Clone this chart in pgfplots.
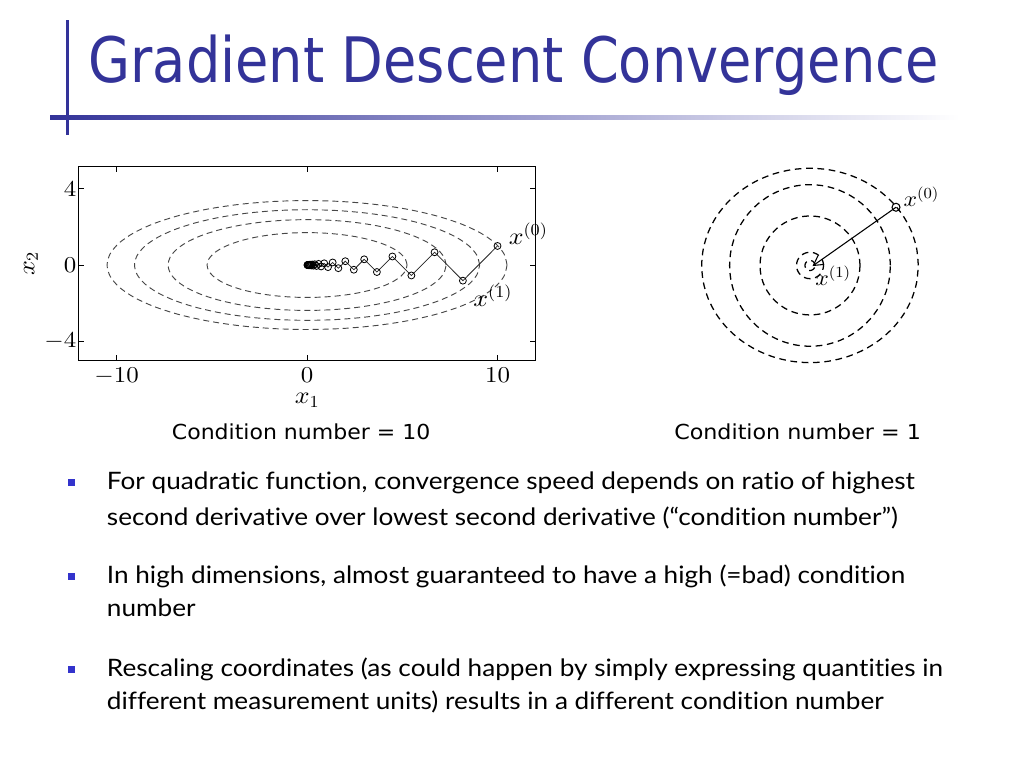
\documentclass[border=0pt]{standalone}
\DeclareFontShape{OML}{cmm}{m}{it}{<->cmmi10}{\skewchar\font127 }
\DeclareFontShape{OMS}{cmsy}{m}{n}{<->cmsy10}{\skewchar\font48 }
\DeclareFontShape{OT1}{cmr}{m}{n}{<->cmr10}{}
\usepackage{fontspec}
\usepackage{graphicx}
\usepackage{pgfplots}
\pgfplotsset{compat=1.18}
\usepackage{pgfplotstable}
\usetikzlibrary{arrows.meta}
\newfontfamily\titlefont{DejaVu Sans}
\newfontfamily\bodyfont[Ligatures=NoCommon]{Lato}
\definecolor{titleblue}{RGB}{51,51,153}
\definecolor{bulletblue}{RGB}{51,51,204}

% unit circle, every 10 degrees (contours are scaled copies)
\pgfplotstableread{
c s
1.0000 0.0000
0.9848 0.1736
0.9397 0.3420
0.8660 0.5000
0.7660 0.6428
0.6428 0.7660
0.5000 0.8660
0.3420 0.9397
0.1736 0.9848
0.0000 1.0000
-0.1736 0.9848
-0.3420 0.9397
-0.5000 0.8660
-0.6428 0.7660
-0.7660 0.6428
-0.8660 0.5000
-0.9397 0.3420
-0.9848 0.1736
-1.0000 0.0000
-0.9848 -0.1736
-0.9397 -0.3420
-0.8660 -0.5000
-0.7660 -0.6428
-0.6428 -0.7660
-0.5000 -0.8660
-0.3420 -0.9397
-0.1736 -0.9848
0.0000 -1.0000
0.1736 -0.9848
0.3420 -0.9397
0.5000 -0.8660
0.6428 -0.7660
0.7660 -0.6428
0.8660 -0.5000
0.9397 -0.3420
0.9848 -0.1736
1.0000 0.0000
}\unitcircle

% gradient descent iterates, condition number 10
\pgfplotstableread{
x y
10.0000 1.0000
8.1818 -0.8182
6.6942 0.6694
5.4771 -0.5477
4.4812 0.4481
3.6665 -0.3666
2.9998 0.3000
2.4544 -0.2454
2.0082 0.2008
1.6430 -0.1643
1.3443 0.1344
1.0999 -0.1100
0.8999 0.0900
0.7363 -0.0736
0.6024 0.0602
0.4929 -0.0493
0.4033 0.0403
0.3300 -0.0330
0.2700 0.0270
0.2209 -0.0221
0.1807 0.0181
0.1479 -0.0148
0.1210 0.0121
0.0990 -0.0099
0.0810 0.0081
0.0663 -0.0066
0.0542 0.0054
0.0444 -0.0044
0.0363 0.0036
0.0297 -0.0030
0.0243 0.0024
}\gdten

% condition number 1: one step
\pgfplotstableread{
x y
86.0 58.2
2.5 -0.6
}\gdone

\begin{document}
\begin{tikzpicture}
\path[use as bounding box, fill=white] (0,0) rectangle (768pt,576pt);

% ---------- left plot ----------
\begin{axis}[
  at={(58.9pt,305.7pt)}, anchor=south west,
  scale only axis, width=342.8pt, height=145.2pt,
  xmin=-12, xmax=12, ymin=-5, ymax=5.15,
  xtick={-10,0,10}, ytick={-4,0,4},
  tick align=inside, major tick length=4pt,
  tick style={black, line width=0.5pt},
  axis line style={black, line width=0.6pt},
  tick label style={font=\fontsize{17}{19}\selectfont},
  xticklabel={\scalebox{1.1}[1]{$\pgfmathprintnumber{\tick}$}},
  yticklabel={\scalebox{1.1}[1]{$\pgfmathprintnumber{\tick}$}},
  xticklabel style={yshift=-2pt},
  yticklabel style={xshift=1.8pt},
  label style={font=\fontsize{18}{20}\selectfont},
  xlabel={\scalebox{1.08}[1]{$x_1$}}, ylabel={\scalebox{1.08}[1]{$x_2$}},
  ylabel style={yshift=-2pt},
  clip=false,
]
\foreach \a/\b in {10.5/3.38, 9.06/2.9, 7.3/2.38, 5.25/1.70}{
  \addplot[black!72, line width=0.7pt, dash pattern=on 4.5pt off 3pt, smooth]
    table[x expr=\thisrow{c}*\a, y expr=\thisrow{s}*\b]{\unitcircle};
}
\addplot[black!85, line width=0.55pt, mark=o, mark size=2.6pt,
  mark options={solid, line width=0.6pt, black}] table{\gdten};
\node[anchor=base west, inner sep=0, font=\fontsize{18}{20}\selectfont]
  at (axis cs:10.58,1.10) {\scalebox{1.08}[1]{$x^{(0)}$}};
\node[anchor=base west, inner sep=0, font=\fontsize{18}{20}\selectfont]
  at (axis cs:8.72,-2.18) {\scalebox{1.08}[1]{$x^{(1)}$}};
\end{axis}

% ---------- right plot ----------
\begin{axis}[
  at={(517.5pt,286.9pt)}, anchor=south west,
  scale only axis, width=180pt, height=180pt,
  xmin=-120, xmax=120, ymin=-120, ymax=120,
  hide axis, clip=false,
]
\foreach \a/\b in {108.3/97.2, 80.4/80.8, 50/49.5, 13.5/13.2, 5/5}{
  \addplot[black, line width=0.95pt, dash pattern=on 5pt off 3.5pt, smooth]
    table[x expr=\thisrow{c}*\a, y expr=\thisrow{s}*\b]{\unitcircle};
}
\addplot[black, line width=0.8pt, -{Straight Barb[length=7pt,width=8pt]}] table{\gdone};
\addplot[black, only marks, mark=o, mark size=3pt, mark options={line width=0.8pt}]
  coordinates {(86.0,58.2)};
\node[anchor=base west, inner sep=0, font=\fontsize{16.5}{19}\selectfont]
  at (axis cs:93.3,58.5) {\scalebox{1.08}[1]{$x^{(0)}$}};
\node[anchor=base west, inner sep=0, font=\fontsize{16.5}{19}\selectfont]
  at (axis cs:5,-20) {\scalebox{1.08}[1]{$x^{(1)}$}};
\end{axis}

% ---------- slide decoration and text (pixel coordinates) ----------
\begin{scope}[yshift=576pt, x=0.75pt, y=-0.75pt]
\fill[titleblue] (66.2,20) rectangle (69.2,135);
\shade[left color=titleblue, right color=white] (50,115.3) rectangle (960,119.3);
\node[anchor=base west, inner sep=0, text=titleblue] at (88.3,82.7)
  {\resizebox{637.5pt}{\height}{\titlefont\fontsize{47}{56}\selectfont Gradient Descent Convergence}};

\node[anchor=base west, inner sep=0] at (171.7,439.3)
  {\resizebox{193.7pt}{\height}{\titlefont\fontsize{15.5}{18}\selectfont Condition number = 10}};
\node[anchor=base west, inner sep=0] at (674,439.3)
  {\resizebox{185pt}{\height}{\titlefont\fontsize{15.5}{18}\selectfont Condition number = 1}};

\foreach \yb in {489.3, 583.3, 676}{
  \fill[bulletblue] (68,\yb-10) rectangle (75,\yb-3);
}
\begin{scope}[every node/.style={anchor=base west, inner sep=0, font=\bodyfont\fontsize{18}{21}\selectfont}]
\node at (106.7,489.3) {\scalebox{1.09}[1]{For quadratic function, convergence speed depends on ratio of highest}};
\node at (106.7,525) {\scalebox{1.09}[1]{second derivative over lowest second derivative (“condition number”)}};
\node at (106.7,583.3) {\scalebox{1.09}[1]{In high dimensions, almost guaranteed to have a high (=bad) condition}};
\node at (106.7,616.7) {\scalebox{1.09}[1]{number}};
\node at (106.7,676) {\scalebox{1.09}[1]{Rescaling coordinates (as could happen by simply expressing quantities in}};
\node at (106.7,709.3) {\scalebox{1.09}[1]{different measurement units) results in a different condition number}};
\end{scope}
\end{scope}
\end{tikzpicture}
\end{document}
